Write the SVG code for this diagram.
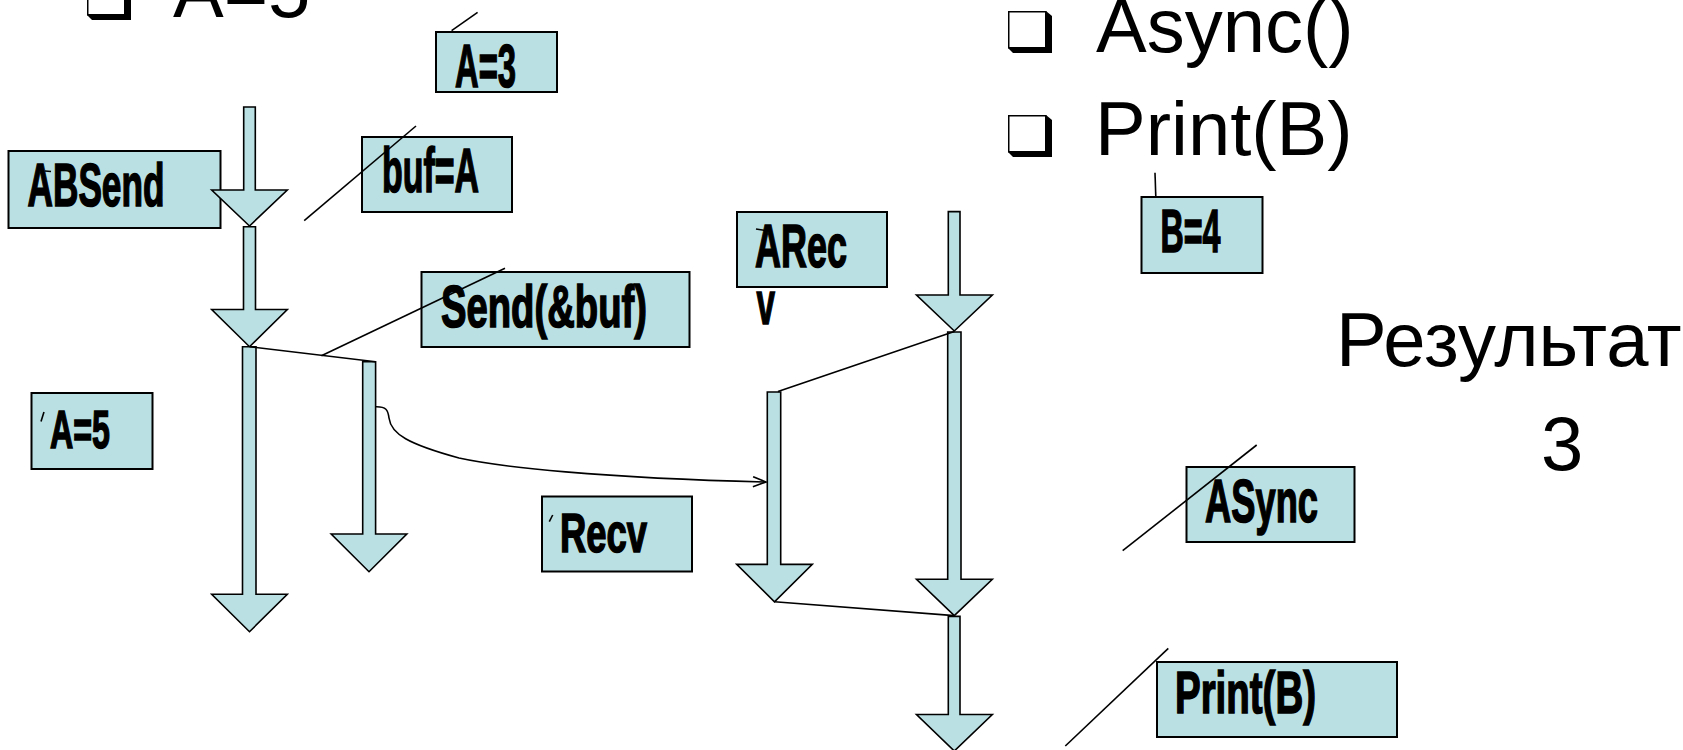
<svg xmlns="http://www.w3.org/2000/svg" width="1683" height="750" viewBox="0 0 1683 750">
<style>
.box{fill:#BBE0E3;stroke:#000;stroke-width:2}
.lbl{font-family:"Liberation Sans",Arial,sans-serif;font-weight:bold;fill:#000;stroke:#000;stroke-width:1.6}
.big{font-family:"Liberation Sans",Arial,sans-serif;fill:#000}
.blk{fill:#BBE0E3;stroke:#000;stroke-width:1.6;stroke-linejoin:miter}
.ln{fill:none;stroke:#000;stroke-width:1.6}
</style>
<defs>
<g id="bullet">
<path d="M0,0 H38 L44,5 V42 H5 L0,37 Z" fill="#000"/>
<rect x="0.75" y="0.75" width="37" height="36" fill="#fff" stroke="#000" stroke-width="1.5"/>
</g>
<marker id="open" markerUnits="userSpaceOnUse" markerWidth="16" markerHeight="12" refX="14" refY="6" orient="auto">
<path d="M1,1 L14,6 L1,11" fill="none" stroke="#000" stroke-width="1.6"/>
</marker>
</defs>

<g id="text-top">
<use href="#bullet" x="87" y="-22"/>
<text class="big" x="173" y="17" font-size="76">A=5</text>
<use href="#bullet" x="1008" y="11"/>
<text class="big" x="1096" y="52" font-size="76">Async()</text>
<use href="#bullet" x="1008" y="115"/>
<text class="big" x="1095" y="155" font-size="76">Print(B)</text>
<text class="big" x="1336" y="366" font-size="76">Результат</text>
<text class="big" x="1541" y="470" font-size="76">3</text>
</g>

<g id="n-a3"><rect class="box" x="436" y="32" width="121" height="60"/><text class="lbl" x="455" y="87" font-size="61" textLength="61" lengthAdjust="spacingAndGlyphs">A=3</text></g>
<g id="n-bufa"><rect class="box" x="362" y="137" width="150" height="75"/><text class="lbl" x="382" y="192" font-size="63" textLength="97" lengthAdjust="spacingAndGlyphs">buf=A</text></g>
<g id="n-absend"><rect class="box" x="8.5" y="151" width="212" height="77"/><text class="lbl" x="27.5" y="205.5" font-size="61" textLength="137" lengthAdjust="spacingAndGlyphs">ABSend</text></g>
<g id="n-send"><rect class="box" x="421.5" y="272" width="268" height="75"/><text class="lbl" x="441" y="327" font-size="59" textLength="206" lengthAdjust="spacingAndGlyphs">Send(&amp;buf)</text></g>
<g id="n-a5"><rect class="box" x="31.5" y="393" width="121" height="76"/><text class="lbl" x="50" y="448" font-size="53" textLength="60" lengthAdjust="spacingAndGlyphs">A=5</text></g>
<g id="n-recv"><rect class="box" x="542" y="496.5" width="150" height="75"/><text class="lbl" x="560" y="551.5" font-size="55" textLength="87" lengthAdjust="spacingAndGlyphs">Recv</text></g>
<g id="n-arecv"><rect class="box" x="737" y="212" width="150" height="75"/><text class="lbl" x="755" y="267" font-size="61" textLength="92" lengthAdjust="spacingAndGlyphs">ARec</text><text class="lbl" x="756.5" y="323.5" font-size="61" textLength="18.5" lengthAdjust="spacingAndGlyphs">v</text></g>
<g id="n-b4"><rect class="box" x="1141.5" y="197" width="121" height="76"/><text class="lbl" x="1160.5" y="251.5" font-size="61" textLength="60" lengthAdjust="spacingAndGlyphs">B=4</text></g>
<g id="n-async"><rect class="box" x="1186.5" y="467" width="168" height="75"/><text class="lbl" x="1205" y="521.5" font-size="61" textLength="113" lengthAdjust="spacingAndGlyphs">ASync</text></g>
<g id="n-printb"><rect class="box" x="1157" y="662" width="240" height="75"/><text class="lbl" x="1175" y="713" font-size="59" textLength="141" lengthAdjust="spacingAndGlyphs">Print(B)</text></g>

<g id="t-send1"><polygon class="blk" points="243.7,107 255.3,107 255.3,190 287.3,190 249.5,226 211.7,190 243.7,190"/></g>
<g id="t-send2"><polygon class="blk" points="243.5,226.7 255.5,226.7 255.5,309.5 287.3,309.5 249.5,346.7 211.7,309.5 243.5,309.5"/></g>
<g id="t-send3"><polygon class="blk" points="242.5,346.7 256,346.7 256,594.3 287.3,594.3 249.5,631.7 211.7,594.3 242.5,594.3"/></g>
<g id="t-fork"><polygon class="blk" points="362.7,361.7 375.6,361.7 375.6,534 406.8,534 369,571.7 331.2,534 362.7,534"/></g>
<g id="t-recvfork"><polygon class="blk" points="767.3,392 780.7,392 780.7,564.4 812.3,564.4 774.5,601.8 736.7,564.4 767.3,564.4"/></g>
<g id="t-recv1"><polygon class="blk" points="948.3,211.6 960,211.6 960,295 992.3,295 954.3,331 916.5,295 948.3,295"/></g>
<g id="t-recv2"><polygon class="blk" points="947.7,332 961,332 961,579.3 992.3,579.3 954.3,615.6 916.5,579.3 947.7,579.3"/></g>
<g id="t-recv3"><polygon class="blk" points="948.3,616.4 960,616.4 960,714.5 992.3,714.5 954.3,751 916.5,714.5 948.3,714.5"/></g>

<g id="connectors">
<line class="ln" x1="249.5" y1="346.7" x2="375.6" y2="361.7"/>
<line class="ln" x1="954.3" y1="331.5" x2="778" y2="391.5"/>
<line class="ln" x1="774.5" y1="601.8" x2="954.3" y2="615.6"/>
<path class="ln" d="M376,406.7 C386,406.5 388,410 389,418 C391,434 408,444 459,458 C500,467 600,478 766,482" marker-end="url(#open)"/>
<line class="ln" x1="451.6" y1="30.7" x2="477.6" y2="12.3"/>
<line class="ln" x1="304.2" y1="220.7" x2="416" y2="126"/>
<line class="ln" x1="321.4" y1="355.7" x2="505" y2="268.3"/>
<line class="ln" x1="1155" y1="172.7" x2="1155.8" y2="196.7"/>
<line class="ln" x1="1122.7" y1="550.7" x2="1256.7" y2="445"/>
<line class="ln" x1="1065.3" y1="746" x2="1168.3" y2="648.3"/>
<line class="ln" x1="41" y1="421.5" x2="44" y2="412"/>
<line class="ln" x1="549.3" y1="521.7" x2="552.7" y2="515"/>
<line class="ln" x1="45" y1="171" x2="51" y2="171.5"/>
<line class="ln" x1="756" y1="229" x2="771.5" y2="231.5"/>
</g>
</svg>
